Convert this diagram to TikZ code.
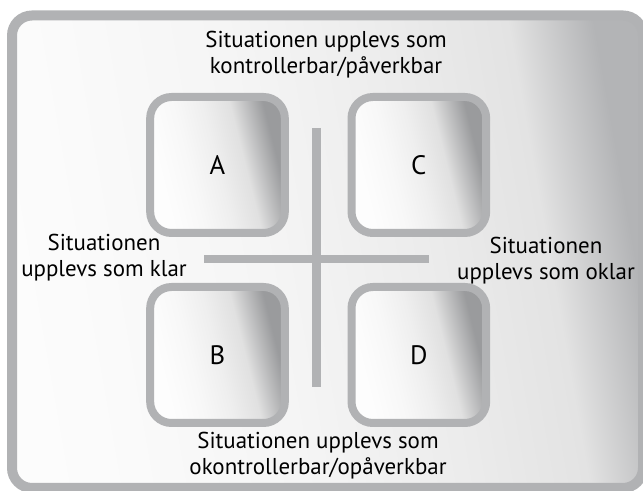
\documentclass[tikz,border=0pt]{standalone}
\usepackage{fontspec}
\setmainfont{PT Sans}
\usetikzlibrary{positioning}

\definecolor{rimgray}{HTML}{B1B2B4}
\definecolor{darkshade}{HTML}{9A9B9D}
\definecolor{frameshade}{HTML}{B3B4B6}

\pgfdeclarehorizontalshading{quadshading}{100bp}{
  color(0bp)=(white); color(30bp)=(white!98!gray); color(40bp)=(white!94!gray);
  color(50bp)=(white!87!gray); color(60bp)=(white!76!gray); color(72bp)=(darkshade); color(100bp)=(darkshade)}
\pgfdeclarehorizontalshading{frameshading}{100bp}{
  color(0bp)=(white); color(28bp)=(white!97!gray); color(45bp)=(white!92!gray);
  color(58bp)=(white!85!gray); color(68bp)=(white!78!gray); color(75bp)=(frameshade); color(100bp)=(frameshade)}

\tikzset{
  quadrant/.style={draw=rimgray, line width=6pt, rounded corners=16pt,
    minimum width=101pt, minimum height=102pt, inner sep=0pt,
    shading=quadshading, shading angle=14,
    font=\fontsize{20}{24}\selectfont},
  caption/.style={align=center, font=\fontsize{17.2}{19.5}\selectfont},
  axisline/.style={draw=rimgray, line width=6.5pt},
}

\begin{document}
\begin{tikzpicture}[x=0.75pt, y=-0.75pt]
  \useasboundingbox (0,0) rectangle (643,491);
  % outer frame
  \draw[rimgray, line width=7.5pt, rounded corners=15pt, shading=frameshading, shading angle=10]
    (12,15.5) rectangle (643,488);

  % the four fields
  \node [quadrant] (a) at (217.5,165) {A};
  \node [quadrant, right=44pt of a] (c) {C};
  \node [quadrant, below=34.5pt of a] (b) {B};
  \node [quadrant, right=44pt of b] (d) {D};

  % the cross
  \coordinate (vtop) at (316.5,128);
  \coordinate (vbot) at (316.5,387);
  \coordinate (hleft) at (204,259);
  \coordinate (hright) at (429,259);
  \draw [axisline] (vtop) -- (vbot);
  \draw [axisline] (hleft) -- (hright);

  % the texts
  \node [caption] (top) at (326,55) {Situationen upplevs som\\kontrollerbar/påverkbar};
  \node [caption] (left) at (104,258) {Situationen\\upplevs som klar};
  \node [caption] (right) at (546,260.5) {Situationen\\upplevs som oklar};
  \node [caption] (bottom) at (318,456) {Situationen upplevs som\\okontrollerbar/opåverkbar};
\end{tikzpicture}
\end{document}
